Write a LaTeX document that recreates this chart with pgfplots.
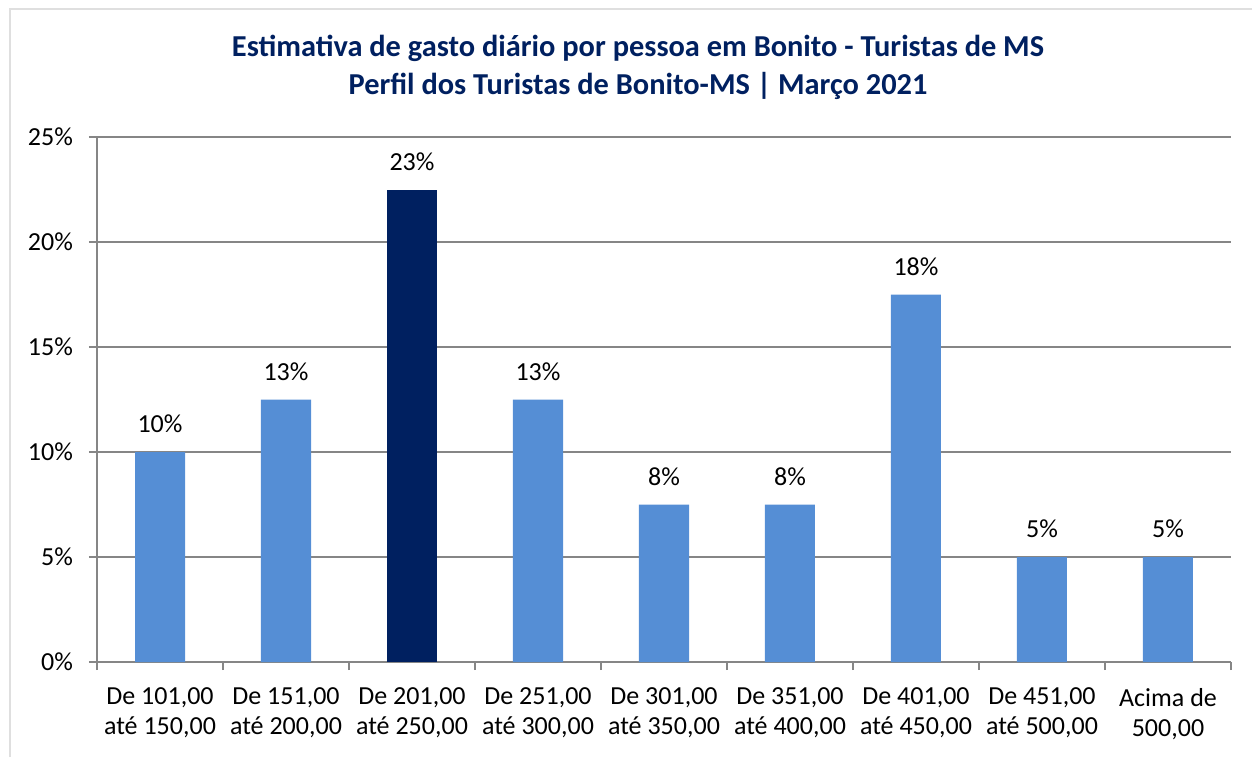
\documentclass[border=0pt]{standalone}
\usepackage{fontspec}
\setmainfont{Carlito}
\usepackage{pgfplots}
\pgfplotsset{compat=1.18}
\definecolor{navy}{HTML}{002060}
\definecolor{lightbar}{HTML}{558ED5}
\definecolor{axgray}{HTML}{868686}
\begin{document}
\begin{tikzpicture}
\path[use as bounding box] (0pt,0pt) rectangle (626pt,378.5pt);
\draw[gray!25, line width=0.8pt] (5pt,0pt) -- (5pt,374pt) -- (626pt,374pt);
\node[align=center, text=navy, font=\bfseries\fontsize{15.2}{19}\selectfont] at (319pt,345pt)
  {Estimativa de gasto diário por pessoa em Bonito - Turistas de MS\\Perfil dos Turistas de Bonito-MS | Março 2021};
\begin{axis}[
    at={(48.5pt,47.5pt)}, anchor=south west,
    scale only axis, width=567pt, height=262.5pt,
    xmin=-0.5, xmax=8.5, ymin=0, ymax=25,
    axis x line*=bottom, axis y line*=left,
    axis line style={axgray, line width=0.8pt, -},
    ytick={0,5,10,15,20,25},
    yticklabels={0\%,5\%,10\%,15\%,20\%,25\%},
    ymajorgrids, grid style={axgray, line width=0.8pt},
    xtick={0,...,8},
    minor xtick={-0.5,0.5,...,8.5},
    major x tick style={draw=none},
    tick style={axgray, line width=0.8pt},
    tick align=outside,
    major tick length=4pt, minor tick length=4pt,
    xticklabels={{De 101,00\\até 150,00}, {De 151,00\\até 200,00}, {De 201,00\\até 250,00},
      {De 251,00\\até 300,00}, {De 301,00\\até 350,00}, {De 351,00\\até 400,00},
      {De 401,00\\até 450,00}, {De 451,00\\até 500,00}, {Acima de\\500,00}},
    xticklabel style={align=center, font=\fontsize{13}{15}\selectfont, yshift=-5.5pt},
    yticklabel style={font=\fontsize{13}{15}\selectfont, xshift=-4.5pt},
    ybar, bar width=25pt, bar shift=0pt,
    nodes near coords, point meta=explicit symbolic,
    nodes near coords style={font=\fontsize{13}{15}\selectfont, black, yshift=6pt},
    /pgf/number format/assume math mode=true,
]
\addplot[fill=lightbar, draw=none] coordinates {
  (0,10) [10\%] (1,12.5) [13\%] (3,12.5) [13\%] (4,7.5) [8\%]
  (5,7.5) [8\%] (6,17.5) [18\%] (7,5) [5\%] (8,5) [5\%]
};
\addplot[fill=navy, draw=none] coordinates {(2,22.5) [23\%]};
\end{axis}
\end{tikzpicture}
\end{document}
